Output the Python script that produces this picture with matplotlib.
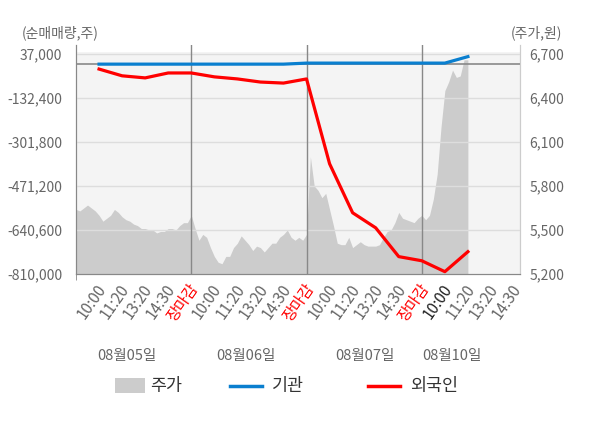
import numpy as np
import matplotlib.pyplot as plt
from matplotlib.patches import Rectangle
from matplotlib.lines import Line2D
import matplotlib.transforms as mtransforms

plt.rcParams['font.family'] = ['Noto Sans CJK KR', 'DejaVu Sans']

# ----------------------------------------------------
# datos
tick_labels = ['10:00', '11:20', '13:20', '14:30', '장마감',
               '10:00', '11:20', '13:20', '14:30', '장마감',
               '10:00', '11:20', '13:20', '14:30', '장마감',
               '10:00', '11:20', '13:20', '14:30']
days = ['08월05일', '08월06일', '08월07일', '08월10일']

# net buying (shares), one value per label slot
foreign = [-20000, -46000, -54000, -35000, -35000, -50000, -58000, -70000, -74000,
           -58000, -385000, -574000, -632000, -743000, -759000, -801000, -724000]
institution = [-1000, -1000, -1000, -1000, -1000, -1000, -1000, -1000, -1000,
               3000, 3000, 3000, 3000, 3000, 3000, 3000, 28000]

# intraday price (won), 6 samples per slot
price = [5640, 5630, 5650, 5670, 5650, 5630, 5600, 5560, 5580, 5600, 5640, 5620,
         5590, 5570, 5560, 5540, 5530, 5510, 5510, 5500, 5500, 5480, 5490, 5490,
         5510, 5510, 5500, 5530, 5550, 5550, 5600, 5510, 5430, 5470, 5450, 5380,
         5320, 5280, 5270, 5320, 5320, 5380, 5410, 5460, 5430, 5400, 5360, 5390,
         5380, 5350, 5380, 5410, 5410, 5450, 5470, 5500, 5450, 5430, 5450, 5430,
         5470, 6000, 5800, 5770, 5720, 5750, 5640, 5530, 5410, 5400, 5400, 5450,
         5380, 5400, 5420, 5400, 5390, 5390, 5390, 5400, 5450, 5490, 5500, 5550,
         5620, 5580, 5570, 5560, 5550, 5580, 5600, 5570, 5600, 5710, 5880, 6200,
         6450, 6510, 6590, 6540, 6550, 6660, 6660]

left_ticks = [-810000, -640600, -471200, -301800, -132400, 37000]
right_ticks = [5200, 5500, 5800, 6100, 6400, 6700]

# ----------------------------------------------------
fig = plt.figure(figsize=(6, 4.28), dpi=100)
W, H = 600, 428
ax_p = fig.add_axes([76 / W, 1 - 274 / H, 444 / W, 229 / H])

slots = np.arange(1, len(tick_labels) + 1)
line_x = np.arange(1, len(foreign) + 1)
price_x = np.linspace(0, len(foreign), len(price))

# fondo gris + precio
ax_p.add_patch(Rectangle((0, 0), 1, 222 / 229, transform=ax_p.transAxes,
                         facecolor='#f4f4f4', edgecolor='none', zorder=0))
ax_p.fill_between(price_x, 5200, price, color='#cccccc', linewidth=0, zorder=1)
ax_p.set_ylim(5200, 6761)
ax_p.set_xlim(0, 19.26)

ax = ax_p.twinx()
ax.set_ylim(-810000, 72800)
ax.set_xlim(0, 19.26)

# eje derecho (precio)
ax_p.yaxis.tick_right()
ax_p.set_yticks(right_ticks)
ax_p.set_yticklabels([f'{v:,}' for v in right_ticks])
ax_p.tick_params(axis='y', length=0, pad=7, labelsize=10, labelcolor='#666666')

# eje izquierdo (neto)
ax.yaxis.tick_left()
ax.set_yticks(left_ticks)
ax.set_yticklabels([f'{v:,}' for v in left_ticks])
ax.tick_params(axis='y', length=0, pad=10, labelsize=10, labelcolor='#666666')

for v in left_ticks[1:]:
    ax.axhline(v, color='#dddddd', linewidth=1, zorder=1)
ax.axhline(0, color='#888888', linewidth=1.2, zorder=2)
for b in [5, 10, 15]:
    ax.axvline(b, color='#888888', linewidth=1, zorder=2)

ax.plot(line_x, institution, color='#0a7fcf', linewidth=2.3, zorder=4)
ax.plot(line_x, foreign, color='#ff0000', linewidth=2.3, zorder=5)

# spines
for a in (ax, ax_p):
    a.spines['top'].set_visible(False)
    a.spines['left'].set_color('#888888')
    a.spines['bottom'].set_color('#888888')
    a.spines['right'].set_color('#cccccc')

# eje x
ax_p.set_xticks(slots)
ax_p.set_xticklabels(tick_labels, rotation=55, ha='right', va='top', rotation_mode='anchor')
ax_p.set_xticks([0, 5, 10, 15], minor=True)
ax_p.tick_params(axis='x', which='major', length=0, pad=5, labelsize=11, labelcolor='#666666')
ax_p.tick_params(axis='x', which='minor', length=4, color='#888888')
shift = mtransforms.ScaledTranslation(-3 / 100, 0, fig.dpi_scale_trans)
for i, t in enumerate(ax_p.get_xticklabels()):
    t.set_transform(t.get_transform() + shift)
    if tick_labels[i] == '장마감':
        t.set_color('#ff0000')
    elif i == 15:
        t.set_color('#222222')

# fechas
for d, xs in zip(days, [2.2, 7.35, 12.55, 16.3]):
    ax_p.text(xs, -0.36, d, transform=ax_p.get_xaxis_transform(), ha='center', va='center',
              fontsize=10.5, color='#666666')

fig.text(22 / W, 1 - 33 / H, '(순매매량,주)', ha='left', va='center', fontsize=10, color='#666666')
fig.text(562 / W, 1 - 33 / H, '(주가,원)', ha='right', va='center', fontsize=10, color='#666666')

# leyenda
ly = 1 - 386 / H
fig.add_artist(Rectangle((115 / W, 1 - 393 / H), 30 / W, 15 / H, facecolor='#cccccc',
                         edgecolor='none', transform=fig.transFigure))
fig.text(150 / W, ly, '주가', ha='left', va='center', fontsize=12.5, color='#333333')
fig.add_artist(Line2D([230 / W, 262 / W], [ly, ly], color='#0a7fcf', linewidth=2.5,
                      transform=fig.transFigure))
fig.text(272 / W, ly, '기관', ha='left', va='center', fontsize=12.5, color='#333333')
fig.add_artist(Line2D([368 / W, 400 / W], [ly, ly], color='#ff0000', linewidth=2.5,
                      transform=fig.transFigure))
fig.text(410 / W, ly, '외국인', ha='left', va='center', fontsize=12.5, color='#333333')

fig.savefig('out.png', dpi=100)
